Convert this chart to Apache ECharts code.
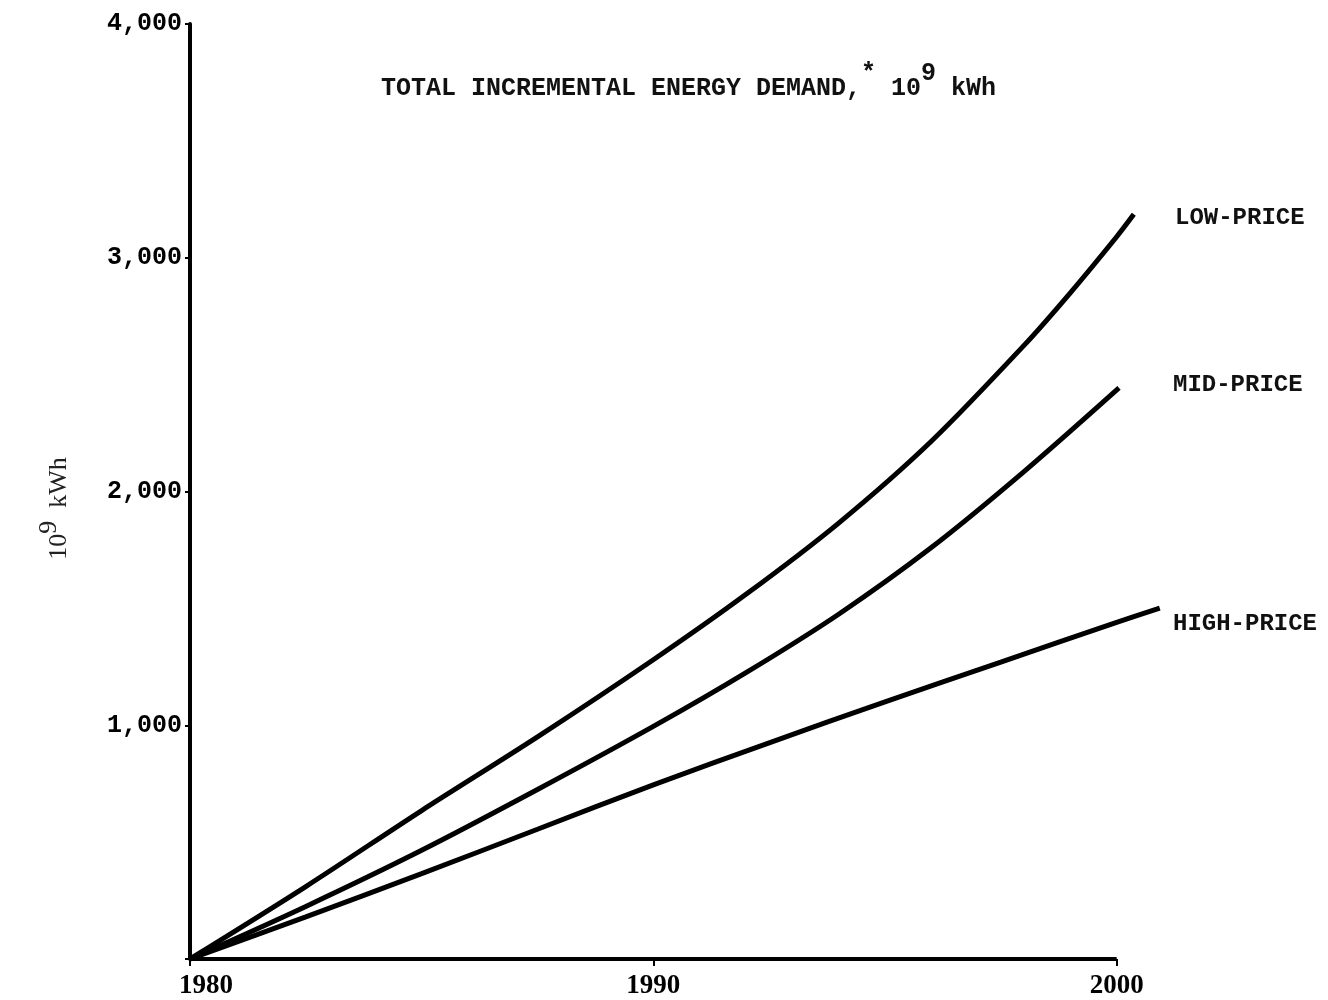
<!DOCTYPE html>
<html>
<head>
<meta charset="utf-8">
<script src="https://cdn.jsdelivr.net/npm/echarts@6/dist/echarts.min.js"></script>
<style>html,body{margin:0;padding:0;background:#fff;}#c{width:1328px;height:1000px;}</style>
</head>
<body>
<div id="c"></div>
<script>
// Data (year, 10^9 kWh)
const lowYears   = [1980, 1982.5, 1985, 1987.5, 1990, 1992, 1994, 1996, 1998, 1999, 2000, 2000.37];
const lowValues  = [0, 310, 635, 950, 1280, 1560, 1865, 2215, 2625, 2850, 3090, 3186];
const midYears   = [1980, 1982.5, 1985, 1987.5, 1990, 1992, 1994, 1996, 1998, 2000.05];
const midValues  = [0, 225, 465, 725, 995, 1225, 1475, 1760, 2085, 2443];
const highYears  = [1980, 1982.5, 1985, 1987.5, 1990, 1992.5, 1995, 1997.5, 2000, 2000.93];
const highValues = [0, 180, 365, 555, 745, 925, 1100, 1270, 1440, 1501];
const baseYears  = [1980, 2000];
const baseValues = [0, 0];
const seriesNames = ['LOW-PRICE', 'MID-PRICE', 'HIGH-PRICE'];
const xTicks = [1980, 1990, 2000];
const yTicks = [0, 1000, 2000, 3000, 4000];

const pairs = (xs, ys) => xs.map((x, i) => [x, ys[i]]);

const chart = echarts.init(document.getElementById('c'));
const lineStyle = { color: '#000', width: 5 };
const mono = '"Liberation Mono", "DejaVu Sans Mono", monospace';
const serif = '"Liberation Serif", "DejaVu Serif", serif';

chart.setOption({
  backgroundColor: '#fff',
  animation: false,
  grid: { left: 190, right: 165, top: 24, bottom: 38, containLabel: false },
  title: {
    left: 376, top: 56,
    text: '{t|TOTAL INCREMENTAL ENERGY DEMAND,}{s|*}{t| 10}{s|9}{t| kWh}',
    textStyle: {
      rich: {
        t: { fontFamily: mono, fontSize: 25, color: '#111', fontWeight: 'bold', verticalAlign: 'bottom', lineHeight: 40 },
        s: { fontFamily: mono, fontSize: 25, color: '#111', fontWeight: 'bold', verticalAlign: 'top', lineHeight: 40 }
      }
    }
  },
  xAxis: {
    type: 'value', min: 1980, max: 2001, interval: 10,
    axisLine: { show: false },
    axisTick: { show: true, customValues: xTicks, length: 7, lineStyle: { color: '#000', width: 2 } },
    splitLine: { show: false },
    axisLabel: {
      margin: 14,
      customValues: xTicks,
      formatter: v => (v === xTicks[0] ? '{a|' + v + '}' : '{b|' + v + '}'),
      rich: {
        a: { fontFamily: serif, fontWeight: 'bold', fontSize: 27, color: '#000', padding: [0, 0, 0, 32] },
        b: { fontFamily: serif, fontWeight: 'bold', fontSize: 27, color: '#000' }
      }
    }
  },
  yAxis: {
    type: 'value', min: 0, max: 4000, interval: 1000,
    name: '{t|10}{s|9}{t|  kWh}',
    nameLocation: 'middle', nameGap: 118, nameRotate: 90,
    nameTextStyle: {
      padding: [0, 34, 0, 0],
      rich: {
        t: { fontFamily: serif, fontSize: 26, color: '#222', verticalAlign: 'bottom', lineHeight: 36 },
        s: { fontFamily: serif, fontSize: 26, color: '#222', verticalAlign: 'top', lineHeight: 36 }
      }
    },
    axisLine: { show: true, lineStyle: { color: '#000', width: 4 } },
    axisTick: { show: true, length: 5, lineStyle: { color: '#000', width: 2 } },
    splitLine: { show: false },
    axisLabel: {
      margin: 8,
      fontFamily: mono, fontWeight: 'bold', fontSize: 25, color: '#000',
      formatter: v => (v === 0 ? '' : v.toLocaleString('en-US'))
    }
  },
  series: [
    { name: 'baseline', type: 'line', symbol: 'none', silent: true, data: pairs(baseYears, baseValues), lineStyle: { color: '#000', width: 4 } },
    { name: seriesNames[0], type: 'line', smooth: 0.3, symbol: 'none', clip: false, data: pairs(lowYears, lowValues), lineStyle },
    { name: seriesNames[1], type: 'line', smooth: 0.3, symbol: 'none', clip: false, data: pairs(midYears, midValues), lineStyle },
    { name: seriesNames[2], type: 'line', smooth: 0.3, symbol: 'none', clip: false, data: pairs(highYears, highValues), lineStyle }
  ],
  graphic: [
    { type: 'text', left: 1175, top: 206, style: { text: seriesNames[0], font: 'bold 24px ' + mono, fill: '#111' } },
    { type: 'text', left: 1173, top: 373, style: { text: seriesNames[1], font: 'bold 24px ' + mono, fill: '#111' } },
    { type: 'text', left: 1173, top: 612, style: { text: seriesNames[2], font: 'bold 24px ' + mono, fill: '#111' } }
  ]
});
</script>
</body>
</html>
